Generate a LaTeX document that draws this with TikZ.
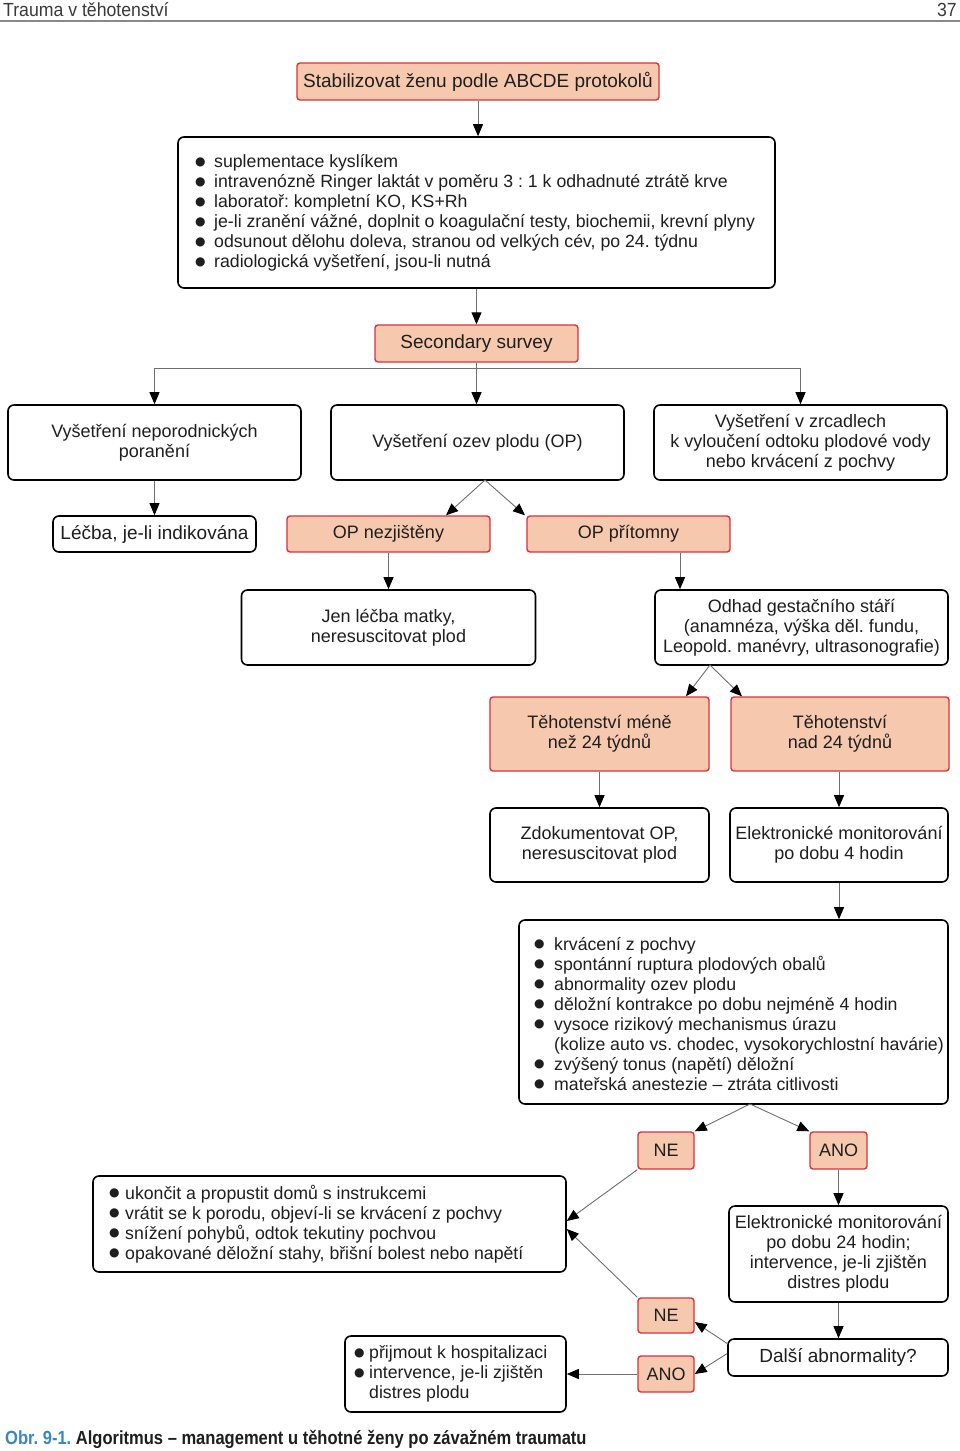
\documentclass[tikz,border=0pt]{standalone}
\usepackage{fontspec}
\usepackage{graphicx}
\setmainfont{Liberation Sans}
\newfontfamily\hdrfont[FakeStretch=0.93]{Liberation Sans}
\newfontfamily\capfont[FakeStretch=0.87]{Liberation Sans}
\newfontfamily\symfont{DejaVu Sans}
\usetikzlibrary{arrows.meta}
\definecolor{salmon}{HTML}{F6C9AE}
\definecolor{redb}{HTML}{D9323D}
\definecolor{lineg}{HTML}{6E6E6E}
\definecolor{txt}{HTML}{1E1E1E}
\definecolor{hdr}{HTML}{3A3A3A}
\definecolor{capblue}{HTML}{3B86C2}
\frenchspacing
\newcommand\boxfont{\fontsize{18}{20}\selectfont}
\newcommand\bigboxfont{\fontsize{19}{20}\selectfont}
\newcommand\listfont{\fontsize{17.7}{20}\selectfont}
\newcommand\bl[1]{\makebox[#1][l]{\raisebox{2.5pt}{\symfont\fontsize{12}{12}\selectfont ●}}}
\tikzset{
  wbox/.style={draw=black, line width=1.6pt, rounded corners=6pt, fill=white, align=center, font=\boxfont, text=txt, inner sep=0pt},
  sbox/.style={draw=redb, fill=salmon, line width=1.4pt, rounded corners=3pt, align=center, font=\boxfont, text=txt, inner sep=0pt},
  big/.style={font=\bigboxfont},
  sz/.style 2 args={minimum width=#1pt, minimum height=#2pt},
  btext/.style={anchor=west, align=left, font=\listfont, text=txt, inner sep=0pt},
  arr/.style={draw=lineg, line width=0.9pt, -{Triangle[length=12pt,width=10pt,color=black]}},
  ln/.style={draw=lineg, line width=0.9pt},
}
\begin{document}
\begin{tikzpicture}[x=1pt,y=-1pt]
\useasboundingbox (0,0) rectangle (960,1451);
\fill[white] (0,0) rectangle (960,1451);
% header
\node[anchor=base west, font=\hdrfont\fontsize{19}{20}\selectfont, text=hdr, inner sep=0pt] (hd) at (3,16) {Trauma v těhotenství};
\node[anchor=base east, font=\hdrfont\fontsize{19}{20}\selectfont, text=hdr, inner sep=0pt] (pg) at (957,16) {37};
\draw[hdr!60, line width=1.2pt] (0,21) -- (960,21);

% nodes
\node[sbox, big, sz={362}{37}] (stab) at (478,81.5) {Stabilizovat ženu podle ABCDE protokolů};
\node[wbox, sz={597}{151}] (b1) at (476.5,212.5) {};
\node[btext] (b1t) at (195,213) {\bl{19pt}suplementace kyslíkem\\
\bl{19pt}intravenózně Ringer laktát v poměru 3 : 1 k odhadnuté ztrátě krve\\
\bl{19pt}laboratoř: kompletní KO, KS+Rh\\
\bl{19pt}je-li zranění vážné, doplnit o koagulační testy, biochemii, krevní plyny\\
\bl{19pt}odsunout dělohu doleva, stranou od velkých cév, po 24. týdnu\\
\bl{19pt}radiologická vyšetření, jsou-li nutná};
\node[sbox, big, sz={203}{37}] (ss) at (476.5,343.5) {Secondary survey};
\node[wbox, sz={293}{75}] (A) at (154.5,442.5) {Vyšetření neporodnických\\poranění};
\node[wbox, sz={293}{75}] (B) at (477.5,442.5) {Vyšetření ozev plodu (OP)};
\node[wbox, sz={293}{75}] (C) at (800.5,442.5) {Vyšetření v zrcadlech\\k vyloučení odtoku plodové vody\\nebo krvácení z pochvy};
\node[wbox, big, sz={203}{36}] (lecba) at (154.5,534) {Léčba, je-li indikována};
\node[sbox, sz={203}{36}] (opn) at (388.5,534) {OP nezjištěny};
\node[sbox, sz={203}{36}] (opp) at (628.5,534) {OP přítomny};
\node[wbox, sz={294}{75}] (jen) at (388.5,627.5) {Jen léčba matky,\\neresuscitovat plod};
\node[wbox, sz={293}{75}] (odh) at (801.5,627.5) {Odhad gestačního stáří\\(anamnéza, výška děl. fundu,\\Leopold. manévry, ultrasonografie)};
\node[sbox, sz={219}{74}] (mene) at (599.5,734) {Těhotenství méně\\než 24 týdnů};
\node[sbox, sz={218}{74}] (nad) at (840,734) {Těhotenství\\nad 24 týdnů};
\node[wbox, sz={219}{74}] (zdok) at (599.5,845) {Zdokumentovat OP,\\neresuscitovat plod};
\node[wbox, sz={218}{74}] (elek) at (839,845) {Elektronické monitorování\\po dobu 4 hodin};
\node[wbox, sz={429}{184}] (b2) at (733.5,1012) {};
\node[btext] (b2t) at (534,1014) {\bl{20pt}krvácení z pochvy\\
\bl{20pt}spontánní ruptura plodových obalů\\
\bl{20pt}abnormality ozev plodu\\
\bl{20pt}děložní kontrakce po dobu nejméně 4 hodin\\
\bl{20pt}vysoce rizikový mechanismus úrazu\\
\hspace*{20pt}(kolize auto vs. chodec, vysokorychlostní havárie)\\
\bl{20pt}zvýšený tonus (napětí) děložní\\
\bl{20pt}mateřská anestezie – ztráta citlivosti};
\node[sbox, sz={56}{37}] (NE1) at (666,1150.5) {NE};
\node[sbox, sz={57}{37}] (ANO1) at (838.5,1150.5) {ANO};
\node[wbox, sz={473}{96}] (b3) at (329.5,1224) {};
\node[btext] (b3t) at (109,1224) {\bl{16pt}ukončit a propustit domů s instrukcemi\\
\bl{16pt}vrátit se k porodu, objeví-li se krvácení z pochvy\\
\bl{16pt}snížení pohybů, odtok tekutiny pochvou\\
\bl{16pt}opakované děložní stahy, břišní bolest nebo napětí};
\node[wbox, sz={219}{96}] (e24) at (838.5,1254) {Elektronické monitorování\\po dobu 24 hodin;\\intervence, je-li zjištěn\\distres plodu};
\node[sbox, sz={56}{35}] (NE2) at (666,1315.5) {NE};
\node[wbox, big, sz={220}{37}] (dalsi) at (838,1357.5) {Další abnormality?};
\node[sbox, sz={56}{36}] (ANO2) at (666,1374) {ANO};
\node[wbox, sz={221}{76}] (b4) at (455.5,1374) {};
\node[btext] (b4t) at (354,1374) {\bl{15pt}přijmout k hospitalizaci\\
\bl{15pt}intervence, je-li zjištěn\\
\hspace*{15pt}distres plodu};

% caption
\node[anchor=base west, inner sep=0pt, font=\capfont\bfseries\fontsize{19}{20}\selectfont, text=txt] (cap) at (5,1444) {\textcolor{capblue}{Obr. 9-1.} Algoritmus – management u těhotné ženy po závažném traumatu};

% connectors
\coordinate (ssj) at (476.5,368);
\coordinate (bap) at (485,480);
\coordinate (x446) at (446,0);
\coordinate (x525) at (525,0);
\coordinate (x680) at (680,0);
\coordinate (oap) at (710,665);
\coordinate (x686) at (686,0);
\coordinate (x742) at (742,0);
\coordinate (b2ap) at (750,1104);

\draw[arr] (stab.south) -- (stab.south |- b1.north);
\draw[arr] (b1.south) -- (b1.south |- ss.north);
\draw[ln] (ss.south) -- (ssj);
\draw[arr] (ssj) -| (A.north);
\draw[arr] (ssj) -| (C.north);
\draw[arr] (ssj) -- (ssj |- B.north);
\draw[arr] (A.south) -- (lecba.north);
\draw[arr] (bap) -- (opn.north -| x446);
\draw[arr] (bap) -- (opp.north -| x525);
\draw[arr] (opn.south -| jen.north) -- (jen.north);
\draw[arr] (opp.south -| x680) -- (odh.north -| x680);
\draw[arr] (oap) -- (mene.north -| x686);
\draw[arr] (oap) -- (nad.north -| x742);
\draw[arr] (mene.south) -- (zdok.north);
\draw[arr] (nad.south -| elek.north) -- (elek.north);
\draw[arr] (elek.south) -- (elek.south |- b2.north);
\draw[arr] (b2ap) -- (NE1.north east);
\draw[arr] (b2ap) -- (ANO1.north west);
\draw[arr] (ANO1.south) -- (ANO1.south |- e24.north);
\draw[arr] (NE1.south west) -- ([yshift=3pt]b3.east);
\draw[arr] (NE2.north west) -- ([yshift=-5pt]b3.east);
\draw[arr] (e24.south) -- (e24.south |- dalsi.north);
\draw[arr] ([yshift=14pt]dalsi.west) -- ([yshift=-6.5pt]NE2.east);
\draw[arr] ([yshift=4pt]dalsi.west) -- (ANO2.east);
\draw[arr] (ANO2.west) -- (b4.east);
\end{tikzpicture}
\end{document}
